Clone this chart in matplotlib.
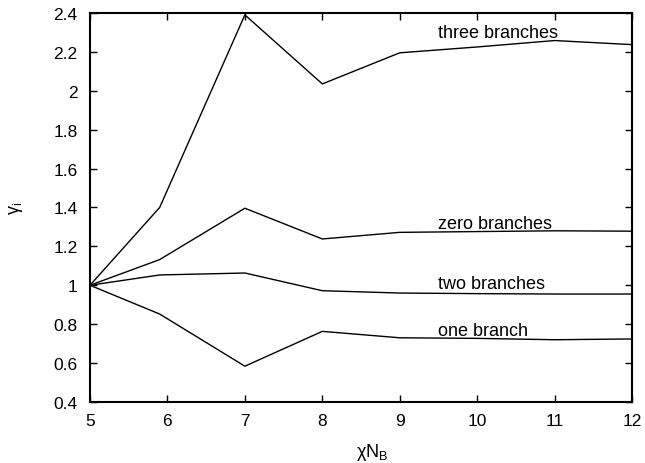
import matplotlib
matplotlib.use('Agg')
import matplotlib.pyplot as plt

plt.rcParams['font.family'] = ['Liberation Sans', 'DejaVu Sans']
plt.rcParams['mathtext.fontset'] = 'custom'
plt.rcParams['mathtext.rm'] = 'Liberation Sans'

# chi N_B values and gamma_i for each branch count
x = [5, 5.9, 7, 8, 9, 10, 11, 12]
three = [1.0, 1.40, 2.39, 2.035, 2.195, 2.225, 2.258, 2.237]
zero = [1.0, 1.132, 1.396, 1.238, 1.272, 1.276, 1.280, 1.278]
two = [1.0, 1.053, 1.063, 0.972, 0.960, 0.957, 0.955, 0.955]
one = [1.0, 0.852, 0.584, 0.763, 0.730, 0.727, 0.720, 0.724]

labels = ['three branches', 'zero branches', 'two branches', 'one branch']
label_x = [9.5, 9.5, 9.5, 9.5]
label_y = [2.30, 1.315, 1.010, 0.768]

fig = plt.figure(figsize=(6.45, 4.64), dpi=100)
ax = fig.add_axes([0.1395, 0.1315, 0.8405, 0.8385])

for ys in (three, zero, two, one):
    ax.plot(x, ys, color='black', lw=1.0)

for t, lx, ly in zip(labels, label_x, label_y):
    ax.text(lx, ly, t, fontsize=13, va='center', ha='left')

ax.set_xlim(5, 12)
ax.set_ylim(0.4, 2.4)
ax.set_xticks(range(5, 13))
ax.set_yticks([0.4, 0.6, 0.8, 1, 1.2, 1.4, 1.6, 1.8, 2, 2.2, 2.4])
ax.set_yticklabels(['0.4', '0.6', '0.8', '1', '1.2', '1.4', '1.6', '1.8', '2', '2.2', '2.4'])
ax.tick_params(direction='in', top=True, right=True, length=5, width=1, labelsize=12.5)
ax.tick_params(axis='y', pad=9)
ax.tick_params(axis='x', pad=8)
for s in ax.spines.values():
    s.set_linewidth(1.5)

ax.set_xlabel('χN$_\\mathrm{B}$', fontsize=13)
ax.set_ylabel('γ$_\\mathrm{i}$', fontsize=13)
ax.xaxis.set_label_coords(0.52, -0.1)
ax.yaxis.set_label_coords(-0.12, 0.5)

fig.savefig('out.png', dpi=100)
